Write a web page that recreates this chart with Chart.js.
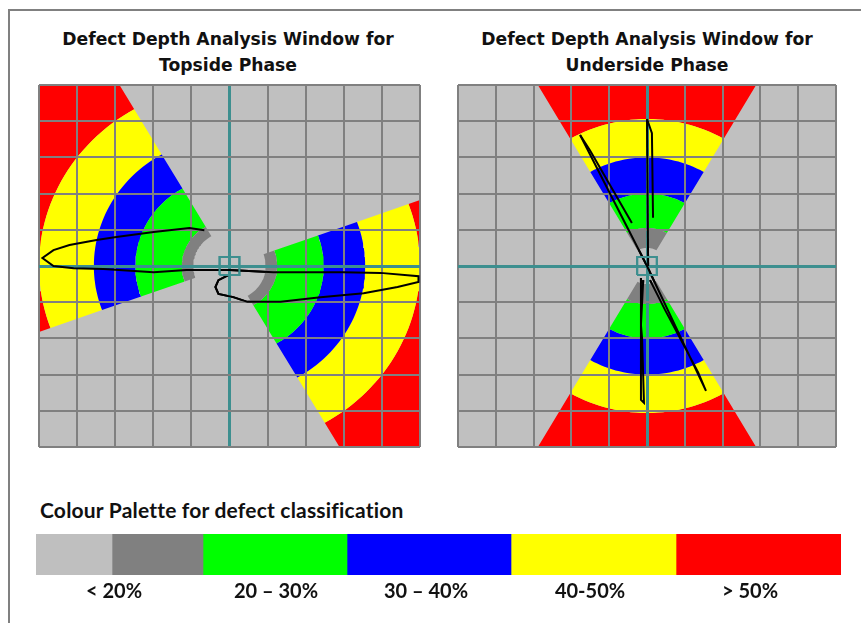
<!DOCTYPE html>
<html>
<head>
<meta charset="utf-8">
<title>Defect Depth Analysis Window</title>
<script src="https://cdn.jsdelivr.net/npm/chart.js@4"></script>
<style>
  html, body { margin: 0; padding: 0; background: #fff; overflow: hidden; }
  #frame { position: absolute; left: 8px; top: 9px; width: 860px; height: 640px; border-left: 2px solid #808080; border-top: 2px solid #808080; }
  canvas { position: absolute; }
  .heading { position: absolute; font: bold 17.2px/26px "DejaVu Sans", sans-serif; color: #111; text-align: center; width: 400px; }
  #paletteHeading { position: absolute; left: 40px; top: 498px; font: bold 21px/24px Lato, sans-serif; letter-spacing: 0.2px; color: #111; white-space: nowrap; }
</style>
</head>
<body>
<div id="frame"></div>
<div class="heading" style="left:28px;top:26px">Defect Depth Analysis Window for<br>Topside Phase</div>
<div class="heading" style="left:447px;top:26px">Defect Depth Analysis Window for<br>Underside Phase</div>
<div id="paletteHeading">Colour Palette for defect classification</div>
<canvas id="topside" width="385" height="366" style="left:37px;top:83px"></canvas>
<canvas id="underside" width="382" height="366" style="left:456px;top:83px"></canvas>
<canvas id="palette" width="805" height="71" style="left:36px;top:534px"></canvas>
<script>
// colour bands, inside to outside
const bandColours = ["#808080", "#00ff00", "#0000ff", "#ffff00", "#ff0000"];

// ring edges in grid units (last one is past the window, it gets clipped)
const topsideRadii = [0.95, 1.25, 2.47, 3.56, 5.0, 9];
const undersideRadii = [0.5, 1.05, 2.0, 3.0, 4.06, 9];

// wedges as [from, to] in degrees
const topsideWedges = [[120, 200], [-60, 20]];
const undersideWedges = [[60, 120], [240, 300]];

// defect outlines, grid units
const topsideTraces = [[
  [-0.66, 0.99], [-1.05, 1.05], [-1.99, 0.94], [-2.97, 0.80], [-3.49, 0.72], [-4.20, 0.58],
  [-4.62, 0.44], [-4.91, 0.22], [-4.62, 0], [-4.09, -0.06], [-3.31, -0.08], [-1.99, -0.17],
  [-1.13, -0.11], [0, -0.11], [1.15, -0.17], [2.05, -0.17], [2.99, -0.17], [3.96, -0.19],
  [4.96, -0.28], [4.96, -0.44], [4.41, -0.58], [3.52, -0.75], [2.39, -0.86], [1.34, -0.99],
  [0.47, -0.99], [0.10, -0.86], [-0.29, -0.77], [-0.37, -0.58], [-0.29, -0.39], [-0.03, -0.25]
]];
const undersideTraces = [
  [[-1.77, 3.62], [0, 0], [1.56, -3.45], [1.35, -2.93], [0.48, -1.22], [0.08, -0.39]],
  [[-1.77, 3.62], [-1.51, 3.2], [-0.98, 2.24], [-0.40, 1.19]],
  [[0, 4.06], [0.03, 0]],
  [[0, 4.06], [0.13, 3.67], [0.16, 1.33]],
  [[-0.16, -0.33], [-0.16, -3.7], [-0.08, -3.78], [-0.13, -2], [-0.16, -1.63], [-0.1, -0.39]]
];

// the little square round the centre
const centreBox = [[-0.26, -0.25], [0.26, -0.25], [0.26, 0.25], [-0.26, 0.25], [-0.26, -0.25]];

// palette strip
const paletteColours = ["#bfbfbf", "#808080", "#00ff00", "#0000ff", "#ffff00", "#ff0000"];
const paletteWidths = [76, 91, 144, 164, 165, 165];
const paletteLabels = ["< 20%", "20 \u2013 30%", "30 \u2013 40%", "40-50%", "> 50%"];
const paletteLabelAt = [78, 240, 390, 554, 714];

function bandOutline(inner, outer, wedge) {
  const pts = [];
  for (let a = wedge[0]; a < wedge[1]; a += 2) pts.push([outer, a]);
  pts.push([outer, wedge[1]]);
  for (let a = wedge[1]; a > wedge[0]; a -= 2) pts.push([inner, a]);
  pts.push([inner, wedge[0]], [outer, wedge[0]]);
  return pts.map(p => ({
    x: p[0] * Math.cos(p[1] * Math.PI / 180),
    y: p[0] * Math.sin(p[1] * Math.PI / 180)
  }));
}

function toPoints(list) {
  return list.map(p => ({x: p[0], y: p[1]}));
}

// window background goes under everything
const windowBackground = {
  id: "windowBackground",
  beforeDatasetsDraw(chart) {
    const a = chart.chartArea;
    chart.ctx.save();
    chart.ctx.fillStyle = "#c0c0c0";
    chart.ctx.fillRect(a.left, a.top, a.width, a.height);
    chart.ctx.restore();
  }
};

// grid sits on top of the colours but the outlines sit on top of the grid
const redrawOutlines = {
  id: "redrawOutlines",
  afterDraw(chart) {
    chart.data.datasets.forEach((d, i) => {
      if (d.overGrid) chart.getDatasetMeta(i).controller.draw();
    });
  }
};

function gridAxis() {
  return {
    min: -5,
    max: 5,
    ticks: {stepSize: 1, display: false},
    border: {display: false},
    grid: {
      z: 1,
      drawTicks: false,
      lineWidth: c => c.tick && c.tick.value === 0 ? 3 : 2,
      color: c => c.tick && c.tick.value === 0 ? "#3d8f8f" : "#808080"
    }
  };
}

function windowChart(id, radii, wedges, traces) {
  const datasets = [];
  wedges.forEach(w => {
    bandColours.forEach((colour, b) => {
      datasets.push({
        data: bandOutline(radii[b], radii[b + 1], w),
        showLine: true, fill: "shape", backgroundColor: colour,
        borderWidth: 0, pointRadius: 0, tension: 0
      });
    });
  });
  traces.forEach(t => {
    datasets.push({
      data: toPoints(t), showLine: true, fill: false, overGrid: true,
      borderColor: "#000", borderWidth: 2, pointRadius: 0, tension: 0
    });
  });
  datasets.push({
    data: toPoints(centreBox), showLine: true, fill: false, overGrid: true,
    borderColor: "#3d8f8f", borderWidth: 2, pointRadius: 0, tension: 0
  });
  new Chart(id, {
    type: "scatter",
    data: {datasets: datasets},
    options: {
      responsive: false,
      animation: false,
      layout: {padding: 2},
      plugins: {legend: {display: false}, tooltip: {enabled: false}},
      scales: {x: gridAxis(), y: gridAxis()}
    },
    plugins: [windowBackground, redrawOutlines]
  });
}

windowChart("topside", topsideRadii, topsideWedges, topsideTraces);
windowChart("underside", undersideRadii, undersideWedges, undersideTraces);

new Chart("palette", {
  type: "bar",
  data: {
    labels: ["palette"],
    datasets: paletteWidths.map((w, i) => ({
      data: [w],
      backgroundColor: paletteColours[i],
      barPercentage: 1,
      categoryPercentage: 1
    }))
  },
  options: {
    indexAxis: "y",
    responsive: false,
    animation: false,
    plugins: {legend: {display: false}, tooltip: {enabled: false}},
    scales: {
      x: {
        stacked: true,
        min: 0,
        max: 805,
        border: {display: false},
        grid: {display: false, drawTicks: false},
        afterBuildTicks(scale) {
          scale.ticks = paletteLabelAt.map(v => ({value: v}));
        },
        afterFit(scale) { scale.height = 30; },
        ticks: {
          autoSkip: false,
          maxRotation: 0,
          padding: 5,
          color: "#111",
          font: {family: "Lato", weight: "bold", size: 20},
          callback: (v, i) => paletteLabels[i]
        }
      },
      y: {stacked: true, display: false}
    }
  }
});
</script>
</body>
</html>
